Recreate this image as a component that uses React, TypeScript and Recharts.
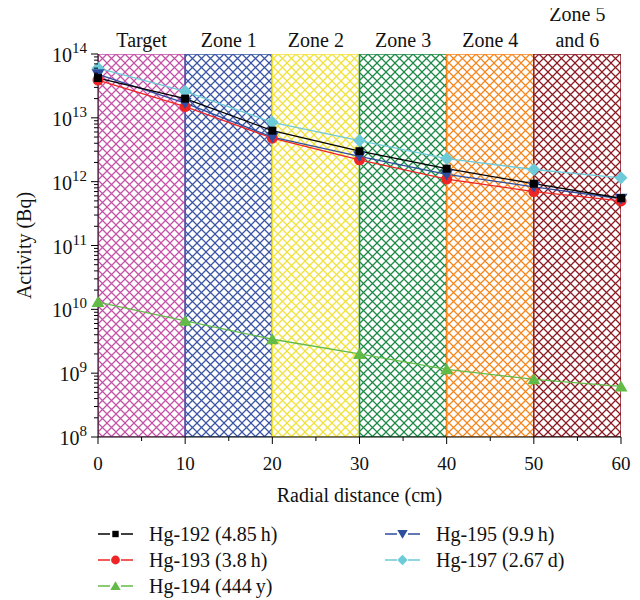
import React from 'react';
import { LineChart, Line, XAxis, YAxis, ReferenceArea } from 'recharts';

const distances = [0, 10, 20, 30, 40, 50, 60];
const hg192 = [4.2e13, 2.0e13, 6.3e12, 3.0e12, 1.6e12, 9.3e11, 5.5e11];
const hg193 = [3.9e13, 1.5e13, 4.8e12, 2.2e12, 1.1e12, 7.0e11, 5.0e11];
const hg194 = [1.3e10, 6.6e9, 3.4e9, 2.0e9, 1.15e9, 8.0e8, 6.2e8];
const hg195 = [4.8e13, 1.7e13, 5.0e12, 2.5e12, 1.3e12, 8.3e11, 5.4e11];
const hg197 = [6.0e13, 2.6e13, 8.5e12, 4.4e12, 2.3e12, 1.55e12, 1.15e12];

const zoneNames = ['Target', 'Zone 1', 'Zone 2', 'Zone 3', 'Zone 4', 'Zone 5\nand 6'];
const zoneStarts = [0, 10, 20, 30, 40, 50];
const zoneEnds = [10, 20, 30, 40, 50, 60];
const zoneCenters = [5, 15, 25, 35, 45, 55];
const zoneColors = ['#c452a8', '#3b55a5', '#f0e23a', '#1b8a45', '#f6871f', '#8b1a22'];

const xTicks = [0, 5, 10, 15, 20, 25, 30, 35, 40, 45, 50, 55, 60];
const yExponents = [8, 9, 10, 11, 12, 13, 14];
const yMantissas = [1, 2, 3, 4, 5, 6, 7, 8, 9];

const yTicks: number[] = [];
yExponents.forEach((e) => {
  yMantissas.forEach((m) => {
    if (e < 14 || m === 1) yTicks.push(m * Math.pow(10, e));
  });
});

const rows = distances.map((d, i) => ({
  x: d,
  hg192: hg192[i],
  hg193: hg193[i],
  hg194: hg194[i],
  hg195: hg195[i],
  hg197: hg197[i],
}));

const FONT = 'Liberation Serif';

type Shape = 'square' | 'circle' | 'triangle' | 'down' | 'diamond';

const series: { key: string; name: string; color: string; shape: Shape }[] = [
  { key: 'hg197', name: 'Hg-197 (2.67\u2009d)', color: '#6dcad8', shape: 'diamond' },
  { key: 'hg193', name: 'Hg-193 (3.8\u2009h)', color: '#ee2524', shape: 'circle' },
  { key: 'hg195', name: 'Hg-195 (9.9\u2009h)', color: '#2e4d9e', shape: 'down' },
  { key: 'hg194', name: 'Hg-194 (444\u2009y)', color: '#62bb46', shape: 'triangle' },
  { key: 'hg192', name: 'Hg-192 (4.85\u2009h)', color: '#000000', shape: 'square' },
];

function marker(shape: Shape, cx: number, cy: number, color: string, scale: number, key?: string) {
  const s = scale;
  switch (shape) {
    case 'square':
      return <rect key={key} x={cx - 4 * s} y={cy - 4 * s} width={8 * s} height={8 * s} fill={color} />;
    case 'circle':
      return <circle key={key} cx={cx} cy={cy} r={5.5 * s} fill={color} />;
    case 'triangle':
      return (
        <path key={key} d={`M${cx},${cy - 6 * s} L${cx + 6.5 * s},${cy + 5 * s} L${cx - 6.5 * s},${cy + 5 * s} Z`} fill={color} />
      );
    case 'down':
      return (
        <path key={key} d={`M${cx},${cy + 6 * s} L${cx + 6.5 * s},${cy - 5 * s} L${cx - 6.5 * s},${cy - 5 * s} Z`} fill={color} />
      );
    case 'diamond':
    default:
      return (
        <path key={key} d={`M${cx},${cy - 6.5 * s} L${cx + 6.5 * s},${cy} L${cx},${cy + 6.5 * s} L${cx - 6.5 * s},${cy} Z`} fill={color} />
      );
  }
}

const makeDot = (shape: Shape, color: string, k: string) => (props: any) => {
  const { cx, cy, index } = props;
  if (cx == null || cy == null) return <g key={`${k}-${index}`} />;
  return marker(shape, cx, cy, color, 1, `${k}-${index}`);
};

const isMajor = (v: number) => {
  const l = Math.log10(v);
  return Math.abs(l - Math.round(l)) < 1e-6;
};

const YTick = (props: any) => {
  const { x, y, payload } = props;
  const v = payload.value;
  const major = isMajor(v);
  return (
    <g>
      <line x1={x - (major ? 7 : 4)} y1={y} x2={x} y2={y} stroke="#000" strokeWidth={1} />
      {major && (
        <text x={x - 11} y={y + 8} textAnchor="end" style={{ fontFamily: FONT }} fontSize={20} fill="#111">
          <tspan>10</tspan>
          <tspan dy={-9} fontSize={15}>{Math.round(Math.log10(v))}</tspan>
        </text>
      )}
    </g>
  );
};

const XTick = (props: any) => {
  const { x, y, payload } = props;
  const v = payload.value;
  const major = v % 10 === 0;
  return (
    <g>
      <line x1={x} y1={y} x2={x} y2={y + (major ? 7 : 4)} stroke="#000" strokeWidth={1} />
      {major && (
        <text x={x} y={y + 33} textAnchor="middle" style={{ fontFamily: FONT }} fontSize={19} fill="#111">
          {v}
        </text>
      )}
    </g>
  );
};

const ZoneTick = (props: any) => {
  const { x, y, payload } = props;
  const idx = zoneCenters.indexOf(payload.value);
  const lines = (zoneNames[idx] || '').split('\n');
  return (
    <text x={x} textAnchor="middle" style={{ fontFamily: FONT }} fontSize={20} fill="#111">
      {lines.map((ln, i) => (
        <tspan key={i} x={x} y={y - 7 - (lines.length - 1 - i) * 26}>
          {ln}
        </tspan>
      ))}
    </text>
  );
};

const legendLeft = [series[4], series[1], series[3]];
const legendRight = [series[2], series[0]];

function LegendItem({ s, x, y }: { s: (typeof series)[number]; x: number; y: number }) {
  return (
    <g>
      <line x1={x} y1={y} x2={x + 12} y2={y} stroke={s.color} strokeWidth={1.5} />
      <line x1={x + 23} y1={y} x2={x + 35} y2={y} stroke={s.color} strokeWidth={1.5} />
      {marker(s.shape, x + 17.5, y, s.color, 0.8)}
      <text x={x + 51} y={y + 6.5} style={{ fontFamily: FONT }} fontSize={20} fill="#111">
        {s.name}
      </text>
    </g>
  );
}

export default function App() {
  return (
    <div style={{ position: 'relative', width: 624, height: 600, marginTop: -8, fontFamily: FONT }}>
      <svg width={0} height={0} style={{ position: 'absolute' }}>
        <defs>
          {zoneColors.map((c, i) => (
            <pattern key={i} id={`hatch${i}`} width={9} height={9} patternUnits="userSpaceOnUse">
              <rect width={9} height={9} fill="#fff" />
              <path d="M-1,-1 L10,10 M10,-1 L-1,10" stroke={c} strokeWidth={1.25} />
            </pattern>
          ))}
        </defs>
      </svg>
      <LineChart width={624} height={508} data={rows} margin={{ top: 8, right: 11, bottom: 0, left: 0 }}>
        {zoneStarts.map((s, i) => (
          <ReferenceArea
            key={i}
            x1={s}
            x2={zoneEnds[i]}
            y1={1e8}
            y2={1e14}
            fill={`url(#hatch${i})`}
            fillOpacity={1}
            stroke={zoneColors[i]}
            strokeWidth={1.5}
            ifOverflow="hidden"
          />
        ))}
        <XAxis
          dataKey="x"
          type="number"
          domain={[0, 60]}
          ticks={xTicks}
          interval={0}
          tickSize={0}
          tickMargin={0}
          tickLine={false}
          axisLine={{ stroke: '#000', strokeWidth: 1 }}
          height={71}
          tick={<XTick />}
          label={{
            value: 'Radial distance (cm)',
            position: 'insideBottom',
            offset: 6,
            style: { fontFamily: FONT, fontSize: 20, fill: '#111' },
          }}
        />
        <XAxis
          xAxisId="top"
          orientation="top"
          dataKey="x"
          type="number"
          domain={[0, 60]}
          ticks={zoneCenters}
          interval={0}
          tickSize={0}
          tickMargin={0}
          tickLine={false}
          axisLine={false}
          height={46}
          tick={<ZoneTick />}
        />
        <YAxis
          type="number"
          scale="log"
          domain={[1e8, 1e14]}
          allowDataOverflow
          ticks={yTicks}
          interval={0}
          tickSize={0}
          tickMargin={0}
          tickLine={false}
          axisLine={{ stroke: '#000', strokeWidth: 1 }}
          width={90}
          tick={<YTick />}
          label={{
            value: 'Activity (Bq)',
            angle: -90,
            position: 'insideLeft',
            offset: 16,
            style: { fontFamily: FONT, fontSize: 20, fill: '#111', textAnchor: 'middle' },
          }}
        />
        {series.map((s) => (
          <Line
            key={s.key}
            dataKey={s.key}
            name={s.name}
            type="linear"
            stroke={s.color}
            strokeWidth={1.3}
            dot={makeDot(s.shape, s.color, s.key)}
            activeDot={false}
            isAnimationActive={false}
          />
        ))}
      </LineChart>
      <svg width={624} height={92} style={{ position: 'absolute', left: 0, top: 508 }}>
        {legendLeft.map((s, i) => (
          <LegendItem key={s.key} s={s} x={90} y={26 + i * 26} />
        ))}
        {legendRight.map((s, i) => (
          <LegendItem key={s.key} s={s} x={377} y={26 + i * 26} />
        ))}
      </svg>
    </div>
  );
}
